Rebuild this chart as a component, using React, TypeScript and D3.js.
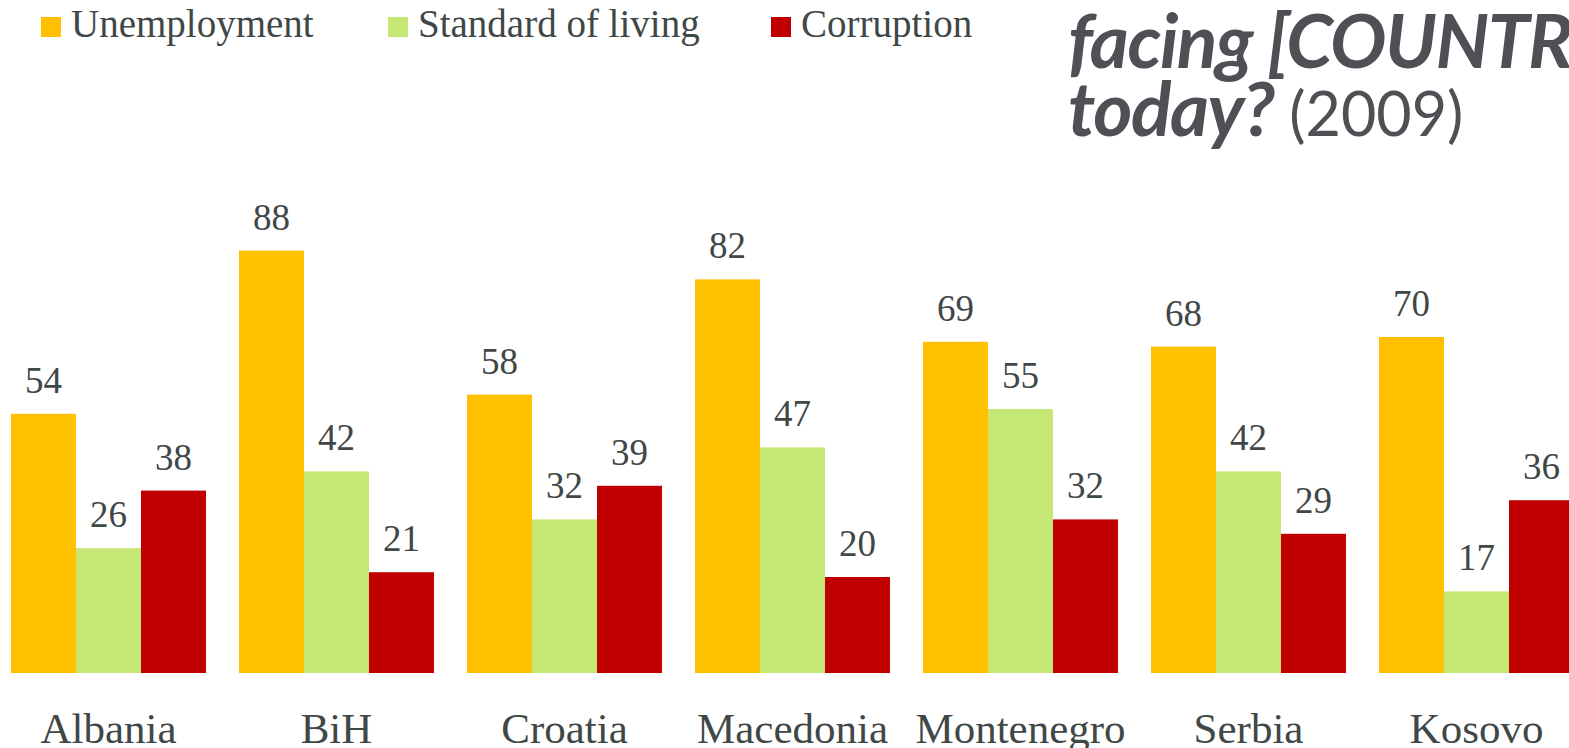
import { useEffect, useRef } from "react";
import * as d3 from "d3";

const countries = ["Albania", "BiH", "Croatia", "Macedonia", "Montenegro", "Serbia", "Kosovo"];
const seriesNames = ["Unemployment", "Standard of living", "Corruption"];
const unemployment = [54, 88, 58, 82, 69, 68, 70];
const standardOfLiving = [26, 42, 32, 47, 55, 42, 17];
const corruption = [38, 21, 39, 20, 32, 29, 36];
const colors = ["#FFC000", "#C5E773", "#C00000"];

const W = 1569;
const H = 748;
const textColor = "#3F4747";
const serif = "'Liberation Serif', 'Times New Roman', serif";

const Chart = () => {
  const svgRef = useRef<SVGSVGElement>(null);

  useEffect(() => {
    const svg = d3.select(svgRef.current);
    svg.selectAll("*").remove();

    const values = [unemployment, standardOfLiving, corruption];
    const rows = countries.map((c, i) => ({ country: c, vals: values.map(v => v[i]) }));

    // group step 228, bar group 195 wide, first group starting at x=11
    const pad = 33 / 228;
    const x0 = d3.scaleBand()
      .domain(countries)
      .range([11 - 33 / 2, 11 - 33 / 2 + 228 * countries.length])
      .paddingInner(pad)
      .paddingOuter(pad / 2);

    const x1 = d3.scaleBand()
      .domain(seriesNames)
      .range([0, x0.bandwidth()]);

    const y = d3.scaleLinear().domain([0, 100]).range([673, 193]);

    const groups = svg.append("g")
      .selectAll("g")
      .data(rows)
      .join("g")
      .attr("transform", d => `translate(${x0(d.country)},0)`);

    groups.selectAll("rect")
      .data(d => d.vals.map((v, k) => ({ name: seriesNames[k], v, k })))
      .join("rect")
      .attr("x", d => x1(d.name)!)
      .attr("y", d => y(d.v))
      .attr("width", x1.bandwidth())
      .attr("height", d => y(0) - y(d.v))
      .attr("fill", d => colors[d.k]);

    groups.selectAll("text.val")
      .data(d => d.vals.map((v, k) => ({ name: seriesNames[k], v, k })))
      .join("text")
      .attr("class", "val")
      .attr("x", d => x1(d.name)! + x1.bandwidth() / 2)
      .attr("y", d => y(d.v) - 21)
      .attr("text-anchor", "middle")
      .attr("font-family", serif)
      .attr("font-size", 37)
      .attr("fill", textColor)
      .text(d => d.v);

    // category axis labels
    svg.append("g")
      .selectAll("text")
      .data(countries)
      .join("text")
      .attr("x", d => x0(d)! + x0.bandwidth() / 2)
      .attr("y", 743)
      .attr("text-anchor", "middle")
      .attr("font-family", serif)
      .attr("font-size", 43)
      .attr("fill", textColor)
      .text(d => d);

    // legend
    const legendX = [41, 388, 771];
    const legend = svg.append("g")
      .selectAll("g")
      .data(seriesNames)
      .join("g")
      .attr("transform", (d, i) => `translate(${legendX[i]},0)`);
    legend.append("rect")
      .attr("x", 0)
      .attr("y", 17)
      .attr("width", 20)
      .attr("height", 20)
      .attr("fill", (d, i) => colors[i]);
    legend.append("text")
      .attr("x", 30)
      .attr("y", 37)
      .attr("font-family", serif)
      .attr("font-size", 39)
      .attr("fill", textColor)
      .text(d => d);

    // title (cut off by the frame)
    const title = svg.append("g")
      .attr("font-family", "Lato, 'Open Sans', sans-serif")
      .attr("fill", "#4F5056");
    title.append("text")
      .attr("x", 1068)
      .attr("y", 68)
      .attr("font-size", 75)
      .attr("font-weight", "bold")
      .attr("font-style", "italic")
      .attr("letter-spacing", -1.5)
      .text("facing [COUNTRY]");
    const t2 = title.append("text")
      .attr("x", 1068)
      .attr("y", 136);
    t2.append("tspan")
      .attr("font-size", 75)
      .attr("font-weight", "bold")
      .attr("font-style", "italic")
      .attr("letter-spacing", -1.5)
      .text("today?");
    t2.append("tspan")
      .attr("font-size", 61)
      .text(" (2009)");
  }, []);

  return <svg ref={svgRef} width={W} height={H} style={{ position: "absolute", left: 0, top: 0, background: "#fff" }} />;
};

export default function App() {
  return <Chart />;
}
